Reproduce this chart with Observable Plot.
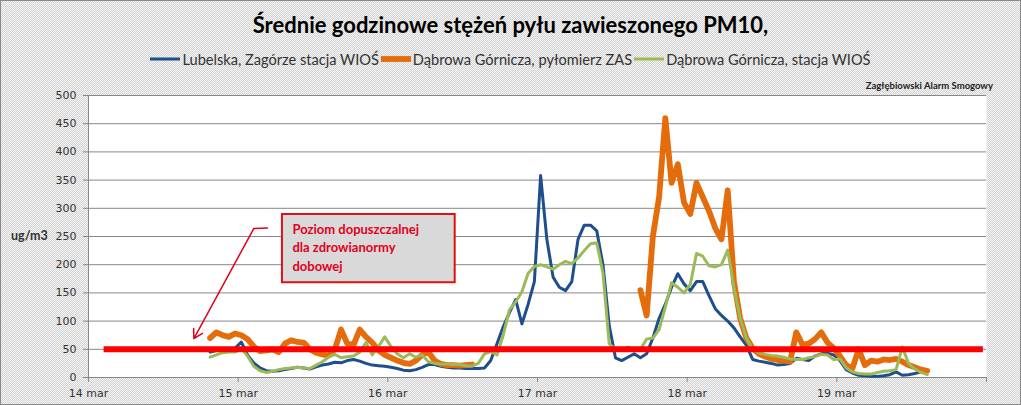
<!DOCTYPE html>
<html><head><meta charset="utf-8">
<script src="https://cdn.jsdelivr.net/npm/d3@7"></script>
<script src="https://cdn.jsdelivr.net/npm/@observablehq/plot@0.6"></script>
<style>
html,body{margin:0;padding:0;background:#fff;}
#chart{position:relative;width:1021px;height:405px;box-sizing:border-box;overflow:hidden;
  background:repeating-conic-gradient(#d2d2d2 0 25%, #f6f6f6 0 50%) 0 0/2px 2px;
  font-family:Lato, "Open Sans", sans-serif;}
#frame{position:absolute;left:0;top:0;width:1021px;height:405px;box-sizing:border-box;border:1px solid #8a8a8a;pointer-events:none;}
#title{height:46px;line-height:50px;text-align:center;font-weight:bold;font-size:22px;color:#000;}
#legend{height:26px;display:flex;justify-content:center;align-items:center;font-size:14.6px;color:#333;}
.item{display:flex;align-items:center;margin:0 1px;}
.item svg{margin-right:2px;}
#credit{position:absolute;right:28px;top:80px;font-size:9.5px;font-weight:bold;color:#222;}
#unit{position:absolute;left:11px;top:228px;font-size:12.5px;font-weight:bold;color:#333;}
#plot svg{display:block;}
</style></head><body>
<div id="chart">
  <div id="title"></div>
  <div id="legend"></div>
  <div id="credit"></div>
  <div id="unit"></div>
  <div id="plot"></div>
  <div id="frame"></div>
</div>
<script>
// ---- data (hourly means, first value = 14 mar 19:00) ----
const firstHour = 19;
const seriesNames = ["Lubelska, Zagórze stacja WIOŚ", "Dąbrowa Górnicza, pyłomierz ZAS", "Dąbrowa Górnicza, stacja WIOŚ"];
const seriesColors = ["#1f4e8c", "#e46c0a", "#9bbb59"];
const blue = [
  45,48,50,48,52,63,40,26,17,12,
  11,12,14,16,18,17,15,19,22,24,
  27,26,30,32,29,25,22,21,20,18,
  16,13,12,14,18,23,23,20,18,17,
  17,16,16,16,17,30,60,90,115,138,
  95,130,170,358,245,178,160,154,170,245,
  270,270,260,200,92,35,30,36,42,35,
  42,70,105,130,160,184,166,154,170,170,
  145,122,110,100,88,72,57,32,29,27,
  25,22,23,25,34,32,30,38,42,43,
  40,30,14,8,4,3,2,2,3,5,
  10,4,5,7,10,10
];
const orange = [
  70,80,75,72,78,75,68,55,47,48,
  50,45,60,66,63,62,50,44,41,39,
  50,85,60,58,85,72,62,48,40,35,
  30,26,24,30,40,45,30,24,22,22,
  21,22,23,null,null,null,null,null,null,null,
  null,null,null,null,null,null,null,null,null,null,
  null,null,null,null,null,null,null,null,null,155,
  110,250,320,460,345,378,310,290,345,320,
  295,265,245,332,170,105,70,52,42,37,
  33,31,30,28,80,58,60,68,80,62,
  52,38,22,16,50,22,30,28,32,31,
  33,28,22,18,14,12
];
const green = [
  36,40,44,45,45,52,38,20,12,9,
  11,14,16,17,18,17,16,22,28,36,
  41,35,37,38,45,62,40,55,72,55,
  42,35,42,36,40,28,25,24,24,23,
  23,21,20,25,42,46,40,75,120,134,
  152,185,197,200,196,192,200,206,202,212,
  225,237,239,185,60,50,48,54,50,50,
  68,70,85,125,168,160,150,165,220,215,
  198,196,200,226,160,105,70,50,44,41,
  39,38,36,33,32,32,35,37,41,40,
  32,33,17,10,7,6,6,9,11,12,
  14,54,25,15,9,5
];
const yTicks = [0,50,100,150,200,250,300,350,400,450,500];
const dayTicks = [0,24,48,72,96,120,144];
const dayLabels = ["14 mar","15 mar","16 mar","17 mar","18 mar","19 mar",""];
const limitValue = 50;
const limitFrom = 2.5, limitTo = 143.5;
const titleText = "Średnie godzinowe stężeń pyłu zawieszonego PM10,";
const creditText = "Zagłębiowski Alarm Smogowy";
const unitText = "ug/m3";
const noteText = "Poziom dopuszczalnej\ndla zdrowianormy\ndobowej";
// note box & leader, in data units (hours, ug/m3)
const noteBox = {x1: 31.1, x2: 58.8, y1: 168, y2: 289, tx: 32.7, ty: 232};
const noteLeader = [{h: 28.7, v: 265}, {h: 26.5, v: 264}];
const noteArrow = {x1: 26.5, y1: 264, x2: 16.9, y2: 69};

// ---- build ----
document.getElementById("title").textContent = titleText;
document.getElementById("credit").textContent = creditText;
document.getElementById("unit").textContent = unitText;
const widths = [3, 5.8, 3];
const legend = document.getElementById("legend");
seriesNames.forEach((n, i) => {
  const it = document.createElement("div"); it.className = "item";
  it.innerHTML = `<svg width="30" height="10"><line x1="0" x2="30" y1="5" y2="5" stroke="${seriesColors[i]}" stroke-width="${widths[i]}"/></svg><span>${n}</span>`;
  legend.appendChild(it);
});

const rows = vals => vals.map((v, i) => ({h: firstHour + i + 0.5, v}));
const allSeries = [blue, orange, green];

const chart = Plot.plot({
  width: 1021, height: 333,
  marginLeft: 88, marginRight: 35, marginTop: 23, marginBottom: 28,
  style: {background: "transparent", fontFamily: "'DejaVu Sans', Verdana, sans-serif", fontSize: "11px", color: "#333"},
  x: {domain: [0, 144]},
  y: {domain: [0, 500]},
  marks: [
    Plot.frame({fill: "white", stroke: null}),
    Plot.gridY(yTicks, {stroke: "#878787", strokeOpacity: 1}),
    Plot.axisY(yTicks, {tickSize: 5, tickPadding: 7, stroke: "#878787", label: null}),
    Plot.axisX(dayTicks, {tickSize: 5, tickPadding: 7, stroke: "#878787", label: null, tickFormat: d => dayLabels[d / 24]}),
    Plot.ruleX([0], {stroke: "#878787"}),
    Plot.ruleY([0], {stroke: "#878787"}),
    ...allSeries.map((s, i) => Plot.line(rows(s), {x: "h", y: "v", stroke: seriesColors[i], strokeWidth: widths[i], strokeLinejoin: "round", strokeLinecap: "round"})),
    Plot.ruleY([limitValue], {x1: limitFrom, x2: limitTo, stroke: "#ff0000", strokeWidth: 6}),
    Plot.rect([noteBox], {x1: "x1", x2: "x2", y1: "y1", y2: "y2", fill: "#d9d9d9", stroke: "#dd1111", strokeWidth: 2}),
    Plot.text([noteBox], {x: "tx", y: "ty", text: () => noteText, textAnchor: "start", lineAnchor: "middle", lineHeight: 1.4, fill: "#e3001b", fontWeight: "bold", fontSize: 13, fontFamily: "Lato, sans-serif"}),
    Plot.line(noteLeader, {x: "h", y: "v", stroke: "#e3001b", strokeWidth: 1.5}),
    Plot.arrow([noteArrow], {x1: "x1", y1: "y1", x2: "x2", y2: "y2", stroke: "#e3001b", strokeWidth: 1.5, headLength: 10, bend: 0})
  ]
});
document.getElementById("plot").appendChild(chart);
</script>
</body></html>
